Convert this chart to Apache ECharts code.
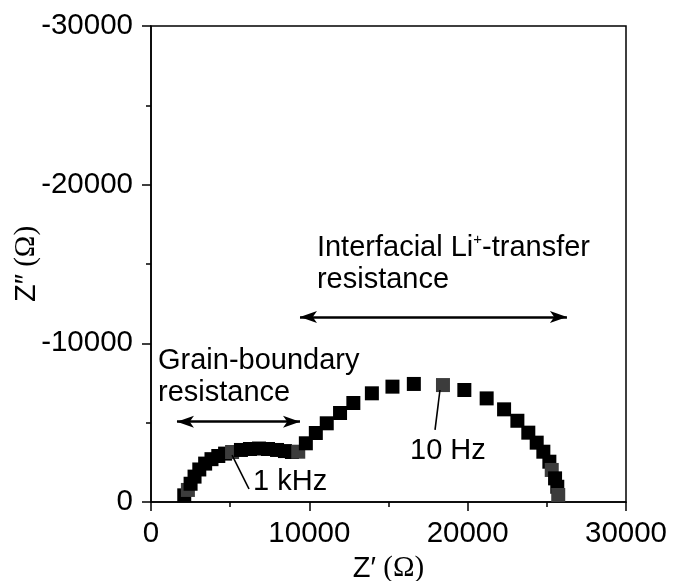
<!DOCTYPE html>
<html><head><meta charset="utf-8">
<script src="https://cdn.jsdelivr.net/npm/echarts@6/dist/echarts.min.js"></script>
<style>html,body{margin:0;padding:0;background:#fff}#c{width:673px;height:581px}</style>
</head><body><div id="c"></div>
<script>
// Nyquist data: Z' (real) and -Z'' values (negative, axis shown inverted)
const zReal = [2100, 2330, 2500, 2750, 3050, 3420, 3820, 4250, 4680, 5120, 5680, 6250, 6820, 7390, 7960, 8460, 8900, 9300,
  9780, 10410, 11100, 11940, 12780, 13950, 15250, 16600, 18440, 19790, 21200, 22300, 23140, 23830, 24360, 24780, 25160, 25310, 25520, 25660, 25720];
const zImag = [-420, -760, -1150, -1600, -2050, -2420, -2700, -2900, -3050, -3150, -3280, -3340, -3370, -3340, -3280, -3210, -3150, -3170,
  -3700, -4350, -4960, -5610, -6240, -6850, -7270, -7440, -7370, -7060, -6530, -5840, -5120, -4370, -3740, -3170, -2540, -2020, -1490, -960, -440];
// indices of points drawn in grey (decade frequencies)
const markedIdx = [1, 9, 17, 26, 35, 38];
const xTickLabels = ['0', '10000', '20000', '30000'];
const yTickLabels = ['-30000', '-20000', '-10000', '0'];
// annotation geometry in data coordinates
const arrowLines = [[[1640, -5060], [9410, -5060]], [[9410, -11660], [26270, -11660]]];
const leaderLines = [[[5120, -2960], [6190, -820]], [[18250, -7060], [17940, -4540]]];
const annotTexts = [
  {text: 'Grain-boundary\nresistance', at: [442, -9900], lh: 32},
  {text: 'Interfacial Li{sup|+}-transfer\nresistance', at: [10480, -17000], lh: 32},
  {text: '1 kHz', at: [6442, -2150], lh: 28},
  {text: '10 Hz', at: [16358, -4100], lh: 28}
];

const FONT = '"Liberation Sans", Arial, sans-serif';
const SERIF = '"Liberation Serif", "Times New Roman", serif';

const pts = zReal.map((x, i) => {
  const item = {value: [x, zImag[i]]};
  if (markedIdx.includes(i)) item.itemStyle = {color: '#3c3c3c', opacity: 1};
  return item;
});

const mlData = [];
arrowLines.forEach(([a, b]) => mlData.push([
  {coord: a, symbol: 'arrow', symbolSize: [9, 17], lineStyle: {width: 2.5, color: '#000', type: 'solid'}},
  {coord: b, symbol: 'arrow', symbolSize: [9, 17]}
]));
leaderLines.forEach(([a, b]) => mlData.push([
  {coord: a, symbol: 'none', lineStyle: {width: 1.6, color: '#000', type: 'solid'}},
  {coord: b, symbol: 'none'}
]));

const chart = echarts.init(document.getElementById('c'), null, {renderer: 'canvas'});
const nameRich = {
  a: {fontFamily: FONT, fontSize: 29, color: '#000'},
  b: {fontFamily: SERIF, fontSize: 29, color: '#000'}
};
chart.setOption({
  animation: false,
  backgroundColor: '#fff',
  grid: {left: 151, right: 47, top: 26, bottom: 79, containLabel: false, outerBoundsMode: 'none',
    show: true, borderColor: '#000', borderWidth: 1.5, backgroundColor: 'transparent'},
  xAxis: {
    type: 'value', min: 0, max: 30000, interval: 10000,
    axisLine: {lineStyle: {color: '#000', width: 1.5}},
    axisTick: {show: true, length: 9, lineStyle: {color: '#000', width: 1.5}},
    minorTick: {show: true, splitNumber: 2, length: 5, lineStyle: {color: '#000', width: 1.5}},
    splitLine: {show: false},
    axisLabel: {fontFamily: FONT, fontSize: 29.5, color: '#000', margin: 17,
      formatter: v => xTickLabels[Math.round(v / 10000)]},
    name: '{a|Z′}{b| (Ω)}', nameLocation: 'middle', nameGap: 52, nameMoveOverlap: false,
    nameTextStyle: {rich: nameRich, verticalAlign: 'top'}
  },
  yAxis: {
    type: 'value', min: -30000, max: 0, interval: 10000, inverse: true,
    axisLine: {lineStyle: {color: '#000', width: 1.5}},
    axisTick: {show: true, length: 9, lineStyle: {color: '#000', width: 1.5}},
    minorTick: {show: true, splitNumber: 2, length: 5, lineStyle: {color: '#000', width: 1.5}},
    splitLine: {show: false},
    axisLabel: {fontFamily: FONT, fontSize: 29.5, color: '#000', margin: 18,
      formatter: v => yTickLabels[Math.round((v + 30000) / 10000)]},
    name: '{a|Z″}{b| (Ω)}', nameLocation: 'middle', nameGap: 110, nameRotate: 90, nameMoveOverlap: false,
    nameTextStyle: {rich: nameRich}
  },
  series: [{
    type: 'scatter', symbol: 'rect', symbolSize: 14,
    itemStyle: {color: '#000', opacity: 1},
    data: pts,
    markLine: {silent: true, symbol: 'none', label: {show: false}, animation: false,
      lineStyle: {type: 'solid', color: '#000'}, data: mlData}
  }]
});

const graphics = annotTexts.map(t => {
  const p = chart.convertToPixel({gridIndex: 0}, t.at);
  return {
    type: 'text', x: p[0], y: p[1], silent: true,
    style: {
      text: t.text, fontFamily: FONT, fontSize: 29, fill: '#000',
      align: 'left', verticalAlign: 'top', lineHeight: t.lh,
      rich: {sup: {fontFamily: FONT, fontSize: 15, verticalAlign: 'top', lineHeight: 16, fill: '#000'}}
    }
  };
});
chart.setOption({graphic: graphics});
</script></body></html>
